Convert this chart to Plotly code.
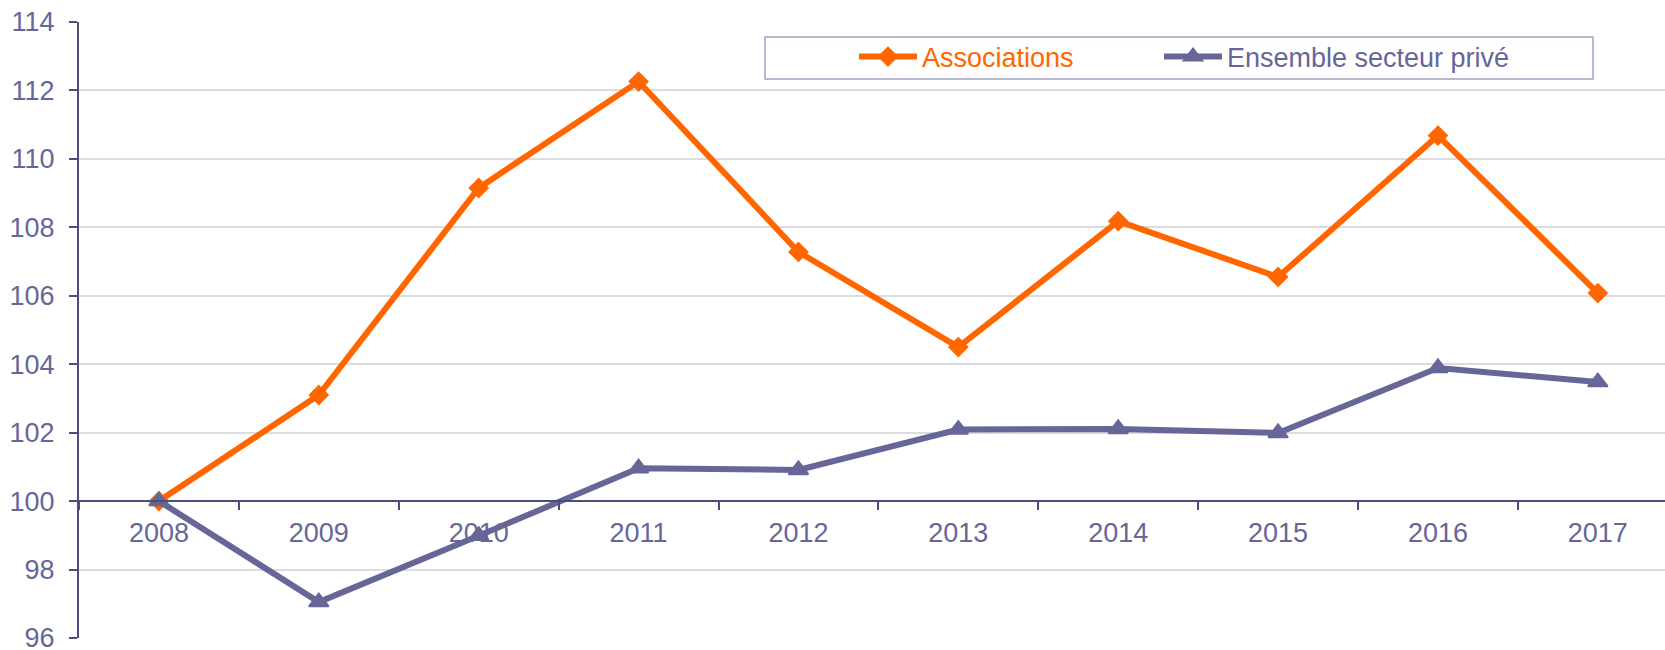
import plotly.graph_objects as go

years = ["2008", "2009", "2010", "2011", "2012", "2013", "2014", "2015", "2016", "2017"]
associations = [100.0, 103.1, 109.15, 112.26, 107.28, 104.5, 108.18, 106.55, 110.68, 106.08]
ensemble_prive = [100.0, 97.05, 98.99, 100.96, 100.91, 102.09, 102.11, 101.99, 103.89, 103.48]
y_ticks = [96, 98, 100, 102, 104, 106, 108, 110, 112, 114]

ORANGE = "#FF6600"
PURPLE = "#666699"
AXIS = "#4D4D7A"
FONT = "Liberation Sans, Arial, sans-serif"
FS = 27

W, H = 1665, 650
ML, MR, MT, MB = 79, 0, 22, 12
PW, PH = W - ML - MR, H - MT - MB

def px_to_paper_x(px):
    return (px - ML) / PW

def px_to_paper_y(py):
    return (H - MB - py) / PH

fig = go.Figure()
fig.add_trace(go.Scatter(
    x=years, y=associations, mode="lines+markers",
    name="<span style='color:%s'>Associations</span>" % ORANGE,
    line=dict(color=ORANGE, width=6),
    marker=dict(symbol="diamond", size=16, color=ORANGE),
    legend="legend",
))
fig.add_trace(go.Scatter(
    x=years, y=ensemble_prive, mode="lines+markers",
    name="<span style='color:%s'>Ensemble secteur privé</span>" % PURPLE,
    line=dict(color=PURPLE, width=6),
    marker=dict(symbol="triangle-up", size=17, color=PURPLE,
                line=dict(color=PURPLE, width=2)),
    legend="legend2",
))

# legend frame
fig.add_shape(type="rect", xref="paper", yref="paper",
              x0=px_to_paper_x(765), x1=px_to_paper_x(1593),
              y0=px_to_paper_y(79), y1=px_to_paper_y(37),
              line=dict(color="#B8B8D0", width=2), fillcolor="white", layer="above")

leg_common = dict(orientation="h", xanchor="left",
                  y=px_to_paper_y(57), yanchor="middle",
                  bgcolor="rgba(0,0,0,0)", borderwidth=0,
                  font=dict(family=FONT, size=FS), itemwidth=58)

fig.update_layout(
    width=W, height=H,
    margin=dict(l=ML, r=MR, t=MT, b=MB, autoexpand=False),
    paper_bgcolor="white", plot_bgcolor="white",
    font=dict(family=FONT, size=FS, color=PURPLE),
    showlegend=True,
    legend=dict(x=px_to_paper_x(854), **leg_common),
    legend2=dict(x=px_to_paper_x(1159), **leg_common),
    xaxis=dict(
        type="category", range=[-0.5, 9.42],
        anchor="free", position=(100 - 96) / (114 - 96),
        showline=True, linecolor=AXIS, linewidth=2,
        ticks="outside", ticklen=8, tickcolor=AXIS, tickwidth=1.5,
        tickson="boundaries", showgrid=False, zeroline=False,
        tickfont=dict(family=FONT, size=FS, color=PURPLE),
        ticklabelstandoff=7, automargin=False,
    ),
    yaxis=dict(
        range=[96, 114], tickvals=y_ticks,
        showline=True, linecolor=AXIS, linewidth=2,
        ticks="outside", ticklen=8, tickcolor=AXIS, tickwidth=1.5,
        showgrid=True, gridcolor="#DCDCDC", gridwidth=2, zeroline=False,
        tickfont=dict(family=FONT, size=FS, color=PURPLE),
        ticklabelstandoff=9, ticklabeloverflow="allow", automargin=False,
    ),
)

fig.write_html("out.html")
